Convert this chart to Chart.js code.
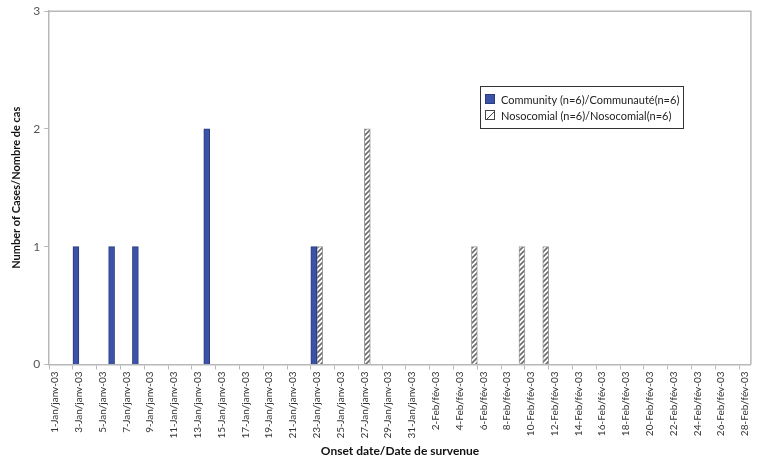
<!DOCTYPE html>
<html>
<head>
<meta charset="utf-8">
<script src="https://cdn.jsdelivr.net/npm/chart.js@4"></script>
<style>
  body { margin: 0; background: #fff; }
  #wrap { width: 759px; height: 463px; position: relative; }
</style>
</head>
<body>
<div id="wrap"><canvas id="chart" width="759" height="463"></canvas></div>
<script>
// ===== DATA =====
const dayNums = [
  1,2,3,4,5,6,7,8,9,10,11,12,13,14,15,16,17,18,19,20,21,22,23,24,25,26,27,28,29,30,31,
  1,2,3,4,5,6,7,8,9,10,11,12,13,14,15,16,17,18,19,20,21,22,23,24,25,26,27,28
];
const monthNames = ['Jan/janv', 'Feb/fév'];
const labels = dayNums.map((d, i) => d + '-' + (i < 31 ? monthNames[0] : monthNames[1]) + '-03');

// cases per onset day (Jan 1 .. Feb 28)
const community = [
  0,0,1,0,0,1,0,1,0,0,0,0,0,2,0,0,0,0,0,0,0,0,1,0,0,0,0,0,0,0,0,
  0,0,0,0,0,0,0,0,0,0,0,0,0,0,0,0,0,0,0,0,0,0,0,0,0,0,0,0
];
const nosocomial = [
  0,0,0,0,0,0,0,0,0,0,0,0,0,0,0,0,0,0,0,0,0,0,1,0,0,0,2,0,0,0,0,
  0,0,0,0,1,0,0,0,1,0,1,0,0,0,0,0,0,0,0,0,0,0,0,0,0,0,0,0
];
const seriesNames = ['Community (n=6)/Communauté(n=6)', 'Nosocomial (n=6)/Nosocomial(n=6)'];
const yTicks = [0, 1, 2, 3];

// ===== HATCH PATTERN =====
function makeHatch() {
  const n = 5;
  const p = document.createElement('canvas');
  p.width = n; p.height = n;
  const c = p.getContext('2d');
  c.fillStyle = '#ffffff';
  c.fillRect(0, 0, n, n);
  c.strokeStyle = '#6e6e6e';
  c.lineWidth = 1.7;
  c.beginPath();
  c.moveTo(-1, n + 1); c.lineTo(n + 1, -1);
  c.moveTo(-1, 1); c.lineTo(1, -1);
  c.moveTo(n - 1, n + 1); c.lineTo(n + 1, n - 1);
  c.stroke();
  return c.createPattern(p, 'repeat');
}

const axisGray = '#b8b8b8';
const fontFam = 'Lato, "Open Sans", sans-serif';

// ===== PLUGINS =====
const frame = {
  id: 'frame',
  beforeDatasetsDraw(chart) {
    const a = chart.chartArea, g = chart.ctx;
    g.save();
    g.strokeStyle = axisGray;
    g.lineWidth = 1.5;
    g.beginPath();
    g.moveTo(a.left, a.top);
    g.lineTo(a.right, a.top);
    g.lineTo(a.right, a.bottom);
    g.stroke();
    g.restore();
  }
};

const boxLegend = {
  id: 'boxLegend',
  afterDraw(chart) {
    const g = chart.ctx;
    const x = 480, y = 86, w = 203, h = 42;
    g.save();
    g.fillStyle = '#fff';
    g.fillRect(x, y, w, h);
    g.strokeStyle = '#333';
    g.lineWidth = 1;
    g.strokeRect(x + 0.5, y + 0.5, w, h);
    g.font = '11px ' + fontFam;
    g.textBaseline = 'middle';
    chart.data.datasets.forEach((ds, i) => {
      const ry = y + 13 + i * 16;
      g.fillStyle = ds.legendFill;
      g.fillRect(x + 5, ry - 5, 10, 10);
      g.strokeStyle = ds.legendBorder;
      g.strokeRect(x + 5.5, ry - 4.5, 9, 9);
      if (i === 1) {
        g.beginPath();
        g.moveTo(x + 6, ry + 5);
        g.lineTo(x + 15, ry - 4);
        g.stroke();
      }
      g.fillStyle = '#222';
      g.fillText(ds.label, x + 21, ry + 1);
    });
    g.restore();
  }
};

// ===== CHART =====
const ctx = document.getElementById('chart');
const hatch = makeHatch();

new Chart(ctx, {
  type: 'bar',
  data: {
    labels: labels,
    datasets: [
      {
        label: seriesNames[0],
        data: community,
        backgroundColor: '#3a52a8',
        borderColor: '#2b3c7c',
        borderWidth: 1,
        legendFill: '#3a52a8',
        legendBorder: '#2b3c7c',
        categoryPercentage: 1,
        barPercentage: 1
      },
      {
        label: seriesNames[1],
        data: nosocomial,
        backgroundColor: hatch,
        borderColor: '#9a9a9a',
        borderWidth: 1,
        legendFill: '#ffffff',
        legendBorder: '#444',
        categoryPercentage: 1,
        barPercentage: 1
      }
    ]
  },
  options: {
    responsive: false,
    animation: false,
    devicePixelRatio: 1,
    layout: { padding: { top: 6, right: 4, left: 10, bottom: 5 } },
    plugins: {
      legend: { display: false },
      tooltip: { enabled: false }
    },
    scales: {
      x: {
        offset: true,
        border: { color: axisGray, width: 1.5 },
        grid: {
          offset: true,
          drawOnChartArea: false,
          tickLength: 5,
          tickColor: c => (c.index % 2 === 0 ? axisGray : 'rgba(0,0,0,0)')
        },
        ticks: {
          autoSkip: false,
          maxRotation: 90,
          minRotation: 90,
          padding: 2,
          color: '#333',
          font: { family: fontFam, size: 10 },
          callback: function (v, i) { return i % 2 === 0 ? this.getLabelForValue(v) : ''; }
        },
        title: {
          display: true,
          text: 'Onset date/Date de survenue',
          color: '#111',
          font: { family: fontFam, size: 12, weight: 'bold' },
          padding: { top: 3, bottom: 0 }
        }
      },
      y: {
        min: yTicks[0],
        max: yTicks[yTicks.length - 1],
        border: { color: axisGray, width: 1.5 },
        grid: { drawOnChartArea: false, tickLength: 5, tickColor: axisGray },
        afterBuildTicks: s => { s.ticks = yTicks.map(v => ({ value: v })); },
        ticks: {
          color: '#555',
          padding: 4,
          font: { family: fontFam, size: 12 }
        },
        title: {
          display: true,
          text: 'Number of Cases/Nombre de cas',
          color: '#111',
          font: { family: fontFam, size: 11, weight: 'bold' },
          padding: { top: 0, bottom: 6 }
        }
      }
    }
  },
  plugins: [frame, boxLegend]
});
</script>
</body>
</html>
